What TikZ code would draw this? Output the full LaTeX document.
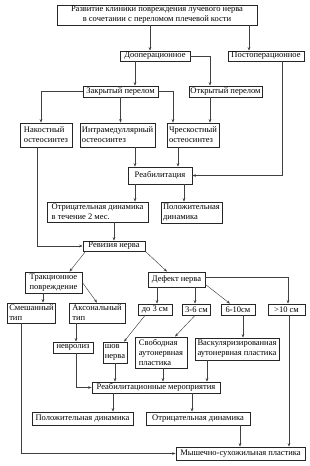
\documentclass[tikz,border=0pt]{standalone}
\usepackage{fontspec}
\setmainfont{Liberation Serif}
\usetikzlibrary{arrows.meta}

\begin{document}
\begin{tikzpicture}[x=1pt, y=-1pt,
    box/.style={draw=black!85, line width=0.8pt, inner xsep=1.5pt, inner ysep=0.5pt,
                align=left, font=\fontsize{8.5}{10}\selectfont},
    arr/.style={-{Stealth[length=3.5pt, width=2.6pt]}, line width=0.45pt, color=black!75}
  ]
  \useasboundingbox (0,0) rectangle (309,466);

  % Upper part
  \node[box, align=center, minimum width=200pt, minimum height=20pt] (top) at (157,15)
       {Развитие клиники повреждения лучевого нерва\\в сочетании с переломом плечевой кости};
  \node[box, minimum width=70pt, minimum height=10pt]  (preop)  at (155,56)    {Дооперационное};
  \node[box, minimum width=76pt, minimum height=10pt]  (postop) at (266,56)    {Постоперационное};
  \node[box, minimum width=75pt, minimum height=11pt]  (closed) at (120.5,91.5) {Закрытый перелом};
  \node[box, minimum width=73pt, minimum height=11pt]  (open)   at (225.5,91.5) {Открытый перелом};
  \node[box, minimum width=52pt, minimum height=24pt]  (plate)  at (46,135)    {Накостный\\остеосинтез};
  \node[box, minimum width=75pt, minimum height=24pt]  (intra)  at (117.5,135) {Интрамедуллярный\\остеосинтез};
  \node[box, minimum width=52pt, minimum height=24pt]  (trans)  at (193,135)   {Чрескостный\\остеосинтез};
  \node[box, minimum width=64pt, minimum height=17pt]  (rehab)  at (160,175.5) {Реабилитация};
  \node[box, minimum width=101pt, minimum height=20pt] (neg2)   at (97.5,212)  {Отрицательная динамика\\в течение 2 мес.};
  \node[box, minimum width=61pt, minimum height=21pt]  (pos1)   at (191.5,212.5) {Положительная\\динамика};
  \node[box, minimum width=62pt, minimum height=10pt]  (revision) at (114,246) {Ревизия нерва};

  % Lower part
  \node[box, minimum width=57pt, minimum height=21pt]  (traction) at (53.5,282.5) {Тракционное\\повреждение};
  \node[box, minimum width=57pt, minimum height=15pt]  (defect) at (176.5,279.5) {Дефект нерва};
  \node[box, minimum width=47pt, minimum height=20pt]  (mixed)  at (31.5,313)   {Смешанный\\тип};
  \node[box, minimum width=56pt, minimum height=20pt]  (axonal) at (97,313)     {Аксональный\\тип};
  \node[box, minimum width=34pt, minimum height=11pt]  (d3)     at (155,309.5)  {до 3 см};
  \node[box, minimum width=28pt, minimum height=11pt]  (d36)    at (196.5,309.5) {3-6 см};
  \node[box, minimum width=34pt, minimum height=11pt]  (d610)   at (238,309.5)  {6-10см};
  \node[box, minimum width=37pt, minimum height=11pt]  (d10)    at (286.5,309.5) {>10 см};
  \node[box, minimum width=40pt, minimum height=11pt]  (neuro)  at (73,347.5)   {невролиз};
  \node[box, minimum width=24pt, minimum height=21pt]  (suture) at (115,352.5)  {шов\\нерва};
  \node[box, minimum width=52pt, minimum height=31pt]  (free)   at (161,352.5)  {Свободная\\аутонервная\\пластика};
  \node[box, minimum width=84pt, minimum height=22pt]  (vasc)   at (237,349)    {Васкуляризированная\\аутонервная пластика};
  \node[box, minimum width=128pt, minimum height=11pt] (rehab2) at (156,387.5)  {Реабилитационные мероприятия};
  \node[box, minimum width=101pt, minimum height=13pt] (pos2)   at (82.5,418.5) {Положительная динамика};
  \node[box, minimum width=104pt, minimum height=13pt] (neg3)   at (198,418.5)  {Отрицательная динамика};
  \node[box, minimum width=129pt, minimum height=13pt] (muscle) at (240.5,453.5) {Мышечно-сухожильная пластика};

  % Connectors, upper part
  \draw[arr] ([xshift=-5]preop.north |- top.south) -- ([xshift=-5]preop.north);
  \draw[arr] ([xshift=-17]postop.north |- top.south) -- ([xshift=-17]postop.north);
  \draw[arr] ([xshift=-20]preop.south) -- ([xshift=-20]preop.south |- closed.north);
  \draw[arr] (preop.east) -| ([xshift=-15.5]open.north);
  \draw[arr] (closed.west) -| ([xshift=-5]plate.north);
  \draw[arr] (closed.south) -- (closed.south |- intra.north);
  \draw[arr] (closed.east) -| ([xshift=-20]trans.north);
  \draw[arr] ([xshift=-15.5]open.south) -- ([xshift=-15.5]open.south |- trans.north);
  \draw[arr] ([xshift=16]postop.south) |- (rehab.east);
  \draw[arr] ([xshift=-9]plate.south) |- (revision.west);
  \draw[arr] ([xshift=17.5]intra.south) -- ([xshift=17.5]intra.south |- rehab.north);
  \draw[arr] ([xshift=-15]trans.south) -- ([xshift=-15]trans.south |- rehab.north);
  \draw[arr] ([xshift=-25]rehab.south) -- ([xshift=-25]rehab.south |- neg2.north);
  \draw[arr] ([xshift=24]rehab.south) -- ([xshift=24]rehab.south |- pos1.north);
  \draw[arr] (revision.north |- neg2.south) -- (revision.north);

  % Connectors, lower part
  \draw[arr] ([xshift=3]revision.south west) -- ([xshift=16]traction.north);
  \draw[arr] (revision.south east) -- ([xshift=-9.5]defect.north);
  \draw[arr] ([xshift=-10.5]traction.south) -- ([xshift=-10.5]traction.south |- mixed.north);
  \draw[arr] (traction.east) -- (axonal.north);
  \draw[arr] ([xshift=-19.5]defect.south) -- ([xshift=-19.5]defect.south |- d3.north);
  \draw[arr] ([xshift=18.5]defect.south) -- ([xshift=18.5]defect.south |- d36.north);
  \draw[arr] ([yshift=3]defect.south east) -- ([xshift=-8]d610.north);
  \draw[arr] ([yshift=2]defect.east) -| ([xshift=1.5]d10.north);
  \draw[arr] ([xshift=-10]d3.south) -- ([xshift=9]suture.north);
  \draw[arr] ([xshift=-1.5]d36.south) -- ([xshift=14]free.north);
  \draw[arr] ([xshift=5]d610.south) -- ([xshift=5]d610.south |- vasc.north);
  \draw[arr] ([xshift=2.5]d10.south) -- ([xshift=2.5]d10.south |- muscle.north);
  \draw[arr] ([xshift=-10.5]mixed.south) |- (muscle.west);
  \draw[arr] ([xshift=-21]axonal.south) -- ([xshift=-21]axonal.south |- neuro.north);
  \draw[arr] ([xshift=3]neuro.south) |- (rehab2.west);
  \draw[arr] (suture.south) -- (suture.south |- rehab2.north);
  \draw[arr] ([xshift=2]free.south) -- ([xshift=2]free.south |- rehab2.north);
  \draw[arr] ([xshift=-30]vasc.south) -- ([xshift=-30]vasc.south |- rehab2.north);
  \draw[arr] ([xshift=-43]rehab2.south) -- ([xshift=-43]rehab2.south |- pos2.north);
  \draw[arr] ([xshift=36]rehab2.south) -- ([xshift=36]rehab2.south |- neg3.north);
  \draw[arr] ([xshift=42]neg3.south) -- ([xshift=42]neg3.south |- muscle.north);
\end{tikzpicture}
\end{document}
